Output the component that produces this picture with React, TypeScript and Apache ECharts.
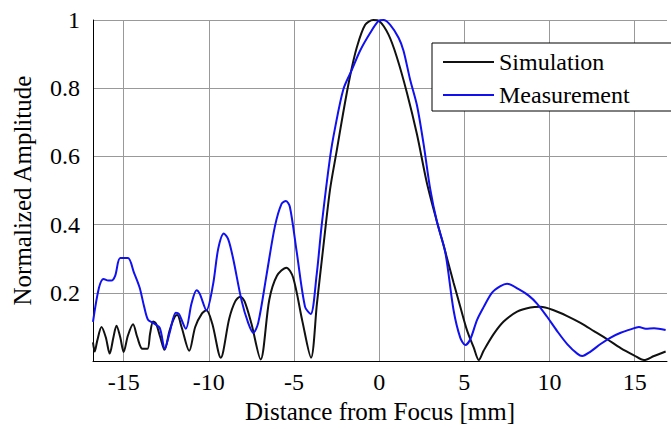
import React, { useEffect, useRef } from "react";
import * as echarts from "echarts";

const simX = [-16.8, -16.7, -16.55, -16.3, -16.05, -15.82, -15.6, -15.42, -15.2, -15.0, -14.75, -14.45, -14.2, -13.9, -13.6, -13.45, -13.27, -13.1, -12.85, -12.6, -12.3, -12.0, -11.85, -11.6, -11.15, -10.8, -10.4, -10.14, -9.8, -9.3, -8.8, -8.45, -8.15, -7.9, -7.5, -6.96, -6.45, -6.0, -5.45, -5.05, -4.5, -4.0, -3.65, -3.28, -2.88, -2.49, -2.1, -1.71, -1.31, -0.82, -0.35, 0.0, 0.55, 1.04, 1.63, 2.22, 2.8, 3.39, 3.78, 4.37, 4.76, 5.16, 5.55, 5.85, 6.14, 6.72, 7.31, 8.1, 8.88, 9.47, 10.25, 11.04, 11.82, 12.61, 13.39, 14.18, 14.96, 15.55, 16.14, 16.82];
const simY = [0.055, 0.028, 0.06, 0.1, 0.07, 0.022, 0.07, 0.104, 0.07, 0.027, 0.075, 0.108, 0.07, 0.036, 0.036, 0.08, 0.116, 0.11, 0.07, 0.033, 0.09, 0.13, 0.135, 0.1, 0.03, 0.1, 0.14, 0.149, 0.11, 0.01, 0.125, 0.175, 0.189, 0.175, 0.11, 0.005, 0.18, 0.25, 0.274, 0.245, 0.115, 0.01, 0.17, 0.334, 0.504, 0.617, 0.731, 0.835, 0.92, 0.986, 1.0, 0.997, 0.957, 0.891, 0.787, 0.665, 0.523, 0.409, 0.34, 0.23, 0.16, 0.09, 0.04, 0.003, 0.031, 0.079, 0.116, 0.145, 0.157, 0.159, 0.149, 0.132, 0.112, 0.088, 0.064, 0.038, 0.017, 0.003, 0.015, 0.028];

const measX = [-16.8, -16.45, -16.18, -15.9, -15.72, -15.5, -15.2, -14.75, -14.4, -14.06, -13.8, -13.57, -13.27, -12.88, -12.59, -12.3, -11.94, -11.75, -11.35, -11.02, -10.72, -10.53, -10.14, -9.75, -9.45, -9.12, -8.86, -8.57, -8.08, -7.69, -7.39, -7.1, -6.61, -6.12, -5.73, -5.47, -5.24, -4.84, -4.35, -4.02, -3.67, -3.37, -2.88, -2.59, -2.1, -1.61, -1.12, -0.53, -0.04, 0.25, 0.65, 1.14, 1.43, 1.82, 2.22, 2.61, 3.0, 3.39, 3.88, 4.37, 4.76, 5.06, 5.35, 5.75, 6.14, 6.63, 7.12, 7.51, 8.19, 8.78, 9.28, 9.86, 10.45, 11.04, 11.63, 11.92, 12.41, 13.0, 13.59, 14.18, 14.76, 15.25, 15.65, 16.14, 16.82];
const measY = [0.115, 0.215, 0.241, 0.236, 0.236, 0.25, 0.302, 0.302, 0.26, 0.215, 0.16, 0.121, 0.112, 0.097, 0.036, 0.083, 0.142, 0.138, 0.095, 0.168, 0.208, 0.197, 0.149, 0.225, 0.329, 0.374, 0.357, 0.3, 0.178, 0.112, 0.083, 0.112, 0.253, 0.395, 0.461, 0.469, 0.452, 0.32, 0.159, 0.138, 0.253, 0.4, 0.598, 0.683, 0.797, 0.853, 0.91, 0.962, 0.997, 1.0, 0.986, 0.948, 0.91, 0.825, 0.75, 0.636, 0.504, 0.409, 0.32, 0.149, 0.069, 0.047, 0.064, 0.121, 0.159, 0.201, 0.22, 0.227, 0.211, 0.192, 0.168, 0.13, 0.088, 0.05, 0.022, 0.015, 0.028, 0.05, 0.069, 0.083, 0.093, 0.1, 0.095, 0.096, 0.091];

const xTicks = [-15, -10, -5, 0, 5, 10, 15];
const seriesNames = ["Simulation", "Measurement"];
const xTitle = "Distance from Focus [mm]";
const yTitle = "Normalized Amplitude";

const FONT = "'Liberation Serif', 'Times New Roman', 'DejaVu Serif', serif";

export default function App() {
  const ref = useRef<HTMLDivElement>(null);
  useEffect(() => {
    if (!ref.current) return;
    const chart = echarts.init(ref.current, undefined, { renderer: "svg" });
    const sim = simX.map((x, i) => [x, simY[i]]);
    const meas = measX.map((x, i) => [x, measY[i]]);
    chart.setOption({
      animation: false,
      backgroundColor: "#ffffff",
      textStyle: { fontFamily: FONT },
      grid: { left: 93, top: 20, right: 4, bottom: 56 },
      legend: {
        orient: "vertical",
        left: 432,
        top: 43,
        padding: [7, 60, 4, 11],
        borderColor: "#000",
        borderWidth: 1,
        backgroundColor: "#fff",
        icon: "rect",
        itemWidth: 51,
        itemHeight: 2,
        itemGap: 9,
        textStyle: { fontFamily: FONT, fontSize: 24, color: "#000" },
        data: seriesNames,
      },
      xAxis: {
        type: "value",
        min: -16.8,
        max: 16.9,
        name: xTitle,
        nameLocation: "middle",
        nameGap: 31,
        nameTextStyle: { fontFamily: FONT, fontSize: 25, color: "#000" },
        axisLine: { show: true, onZero: false, lineStyle: { color: "#000", width: 1 } },
        axisTick: { show: false, customValues: xTicks },
        axisLabel: {
          customValues: xTicks,
          margin: 9,
          fontFamily: FONT,
          fontSize: 24,
          color: "#000",
        },
        splitLine: { show: true, lineStyle: { color: "#999", width: 1 } },
      },
      yAxis: {
        type: "value",
        min: 0,
        max: 1,
        interval: 0.2,
        name: yTitle,
        nameLocation: "middle",
        nameGap: 58,
        nameTextStyle: { fontFamily: FONT, fontSize: 25, color: "#000" },
        axisLine: { show: true, onZero: false, lineStyle: { color: "#000", width: 1 } },
        axisTick: { show: false },
        axisLabel: {
          showMinLabel: false,
          margin: 13,
          fontFamily: FONT,
          fontSize: 24,
          color: "#000",
          formatter: (v: number) => (v === 0 ? "" : String(Math.round(v * 10) / 10)),
        },
        splitLine: { show: true, lineStyle: { color: "#999", width: 1 } },
      },
      series: [
        {
          name: seriesNames[0],
          type: "line",
          data: sim,
          symbol: "none",
          smooth: 0.3,
          lineStyle: { color: "#111", width: 2 },
          itemStyle: { color: "#111" },
          z: 3,
        },
        {
          name: seriesNames[1],
          type: "line",
          data: meas,
          symbol: "none",
          smooth: 0.3,
          lineStyle: { color: "#1010f0", width: 2 },
          itemStyle: { color: "#1010f0" },
          z: 4,
        },
      ],
    });
    return () => chart.dispose();
  }, []);
  return (
    <div
      ref={ref}
      style={{ position: "fixed", left: 0, top: 0, width: 671, height: 429, background: "#fff" }}
    />
  );
}
